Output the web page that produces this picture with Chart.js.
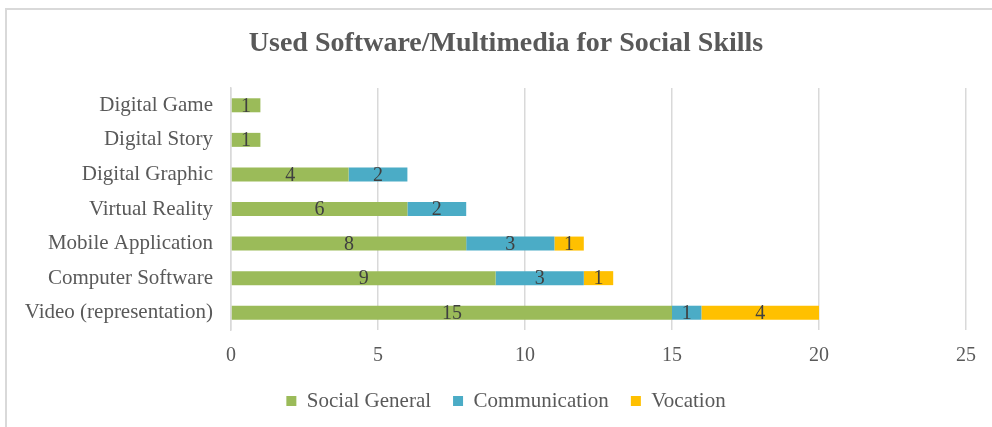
<!DOCTYPE html>
<html>
<head>
<meta charset="utf-8">
<script src="https://cdn.jsdelivr.net/npm/chart.js@4/dist/chart.umd.min.js"></script>
<style>
  html, body { margin: 0; padding: 0; background: #ffffff; overflow: hidden; }
  #wrap { position: relative; width: 992px; height: 427px; }
  #frame { position: absolute; left: 5px; top: 8px; width: 1000px; height: 440px; border: 2px solid #d9d9d9; box-sizing: border-box; pointer-events: none; }
  canvas { position: absolute; left: 0; top: 0; }
</style>
</head>
<body>
<div id="wrap">
  <div id="frame"></div>
  <canvas id="c" width="992" height="427"></canvas>
</div>
<script>
const categories = ['Digital Game', 'Digital Story', 'Digital Graphic', 'Virtual Reality', 'Mobile Application', 'Computer Software', 'Video (representation)'];
const socialGeneral = [1, 1, 4, 6, 8, 9, 15];
const communication = [0, 0, 2, 2, 3, 3, 1];
const vocation = [0, 0, 0, 0, 1, 1, 4];
const xTicks = [0, 5, 10, 15, 20, 25];

const FONT = "'Liberation Serif', 'Times New Roman', serif";
const TEXT = '#595959';

const segmentLabels = {
  id: 'segmentLabels',
  afterDatasetsDraw(chart) {
    const ctx = chart.ctx;
    ctx.save();
    ctx.font = '20px ' + FONT;
    ctx.fillStyle = '#404040';
    ctx.textAlign = 'center';
    ctx.textBaseline = 'middle';
    chart.data.datasets.forEach((ds, di) => {
      const meta = chart.getDatasetMeta(di);
      meta.data.forEach((el, i) => {
        const v = ds.data[i];
        if (!v) return;
        const p = el.getProps(['x', 'y', 'base'], true);
        ctx.fillText(String(v), (p.x + p.base) / 2, p.y + 1);
      });
    });
    ctx.restore();
  }
};

// Centre the title and legend like the original (centred on the whole frame, not the plot)
const centreShift = {
  id: 'centreShift',
  afterLayout(chart) {
    const dx = 23;
    [chart.titleBlock, chart.legend].forEach(b => {
      if (b) { b.left += dx; b.right += dx; }
    });
  }
};

new Chart(document.getElementById('c'), {
  type: 'bar',
  data: {
    labels: categories,
    datasets: [
      { label: 'Social General', data: socialGeneral, backgroundColor: '#9BBB59' },
      { label: 'Communication', data: communication, backgroundColor: '#4BACC6' },
      { label: 'Vocation', data: vocation, backgroundColor: '#FFC000' }
    ]
  },
  options: {
    indexAxis: 'y',
    responsive: false,
    animation: false,
    devicePixelRatio: 1,
    barPercentage: 0.5,
    categoryPercentage: 0.81,
    layout: { padding: { left: 0, right: 26, top: 0, bottom: 5.5 } },
    scales: {
      x: {
        stacked: true,
        min: 0,
        max: 25,
        afterBuildTicks(scale) { scale.ticks = xTicks.map(v => ({ value: v })); },
        afterFit(scale) { scale.height = 38.5; },
        grid: { color: '#d9d9d9', lineWidth: 1.5, drawTicks: false },
        border: { display: false },
        ticks: { color: TEXT, font: { family: FONT, size: 20 }, padding: 14 }
      },
      y: {
        stacked: true,
        afterFit(scale) { scale.width = 231; },
        grid: { display: false, drawTicks: false },
        border: { display: true, color: '#d9d9d9', width: 1.5 },
        ticks: { color: TEXT, font: { family: FONT, size: 21 }, padding: 18 }
      }
    },
    plugins: {
      title: {
        display: true,
        text: 'Used Software/Multimedia for Social Skills',
        color: TEXT,
        font: { family: FONT, size: 28, weight: 'bold' },
        padding: { top: 27.2, bottom: 27.2 }
      },
      legend: {
        position: 'bottom',
        labels: {
          boxWidth: 10,
          boxHeight: 10,
          padding: 22,
          color: TEXT,
          font: { family: FONT, size: 21 }
        }
      },
      tooltip: { enabled: false }
    }
  },
  plugins: [segmentLabels, centreShift]
});
</script>
</body>
</html>
